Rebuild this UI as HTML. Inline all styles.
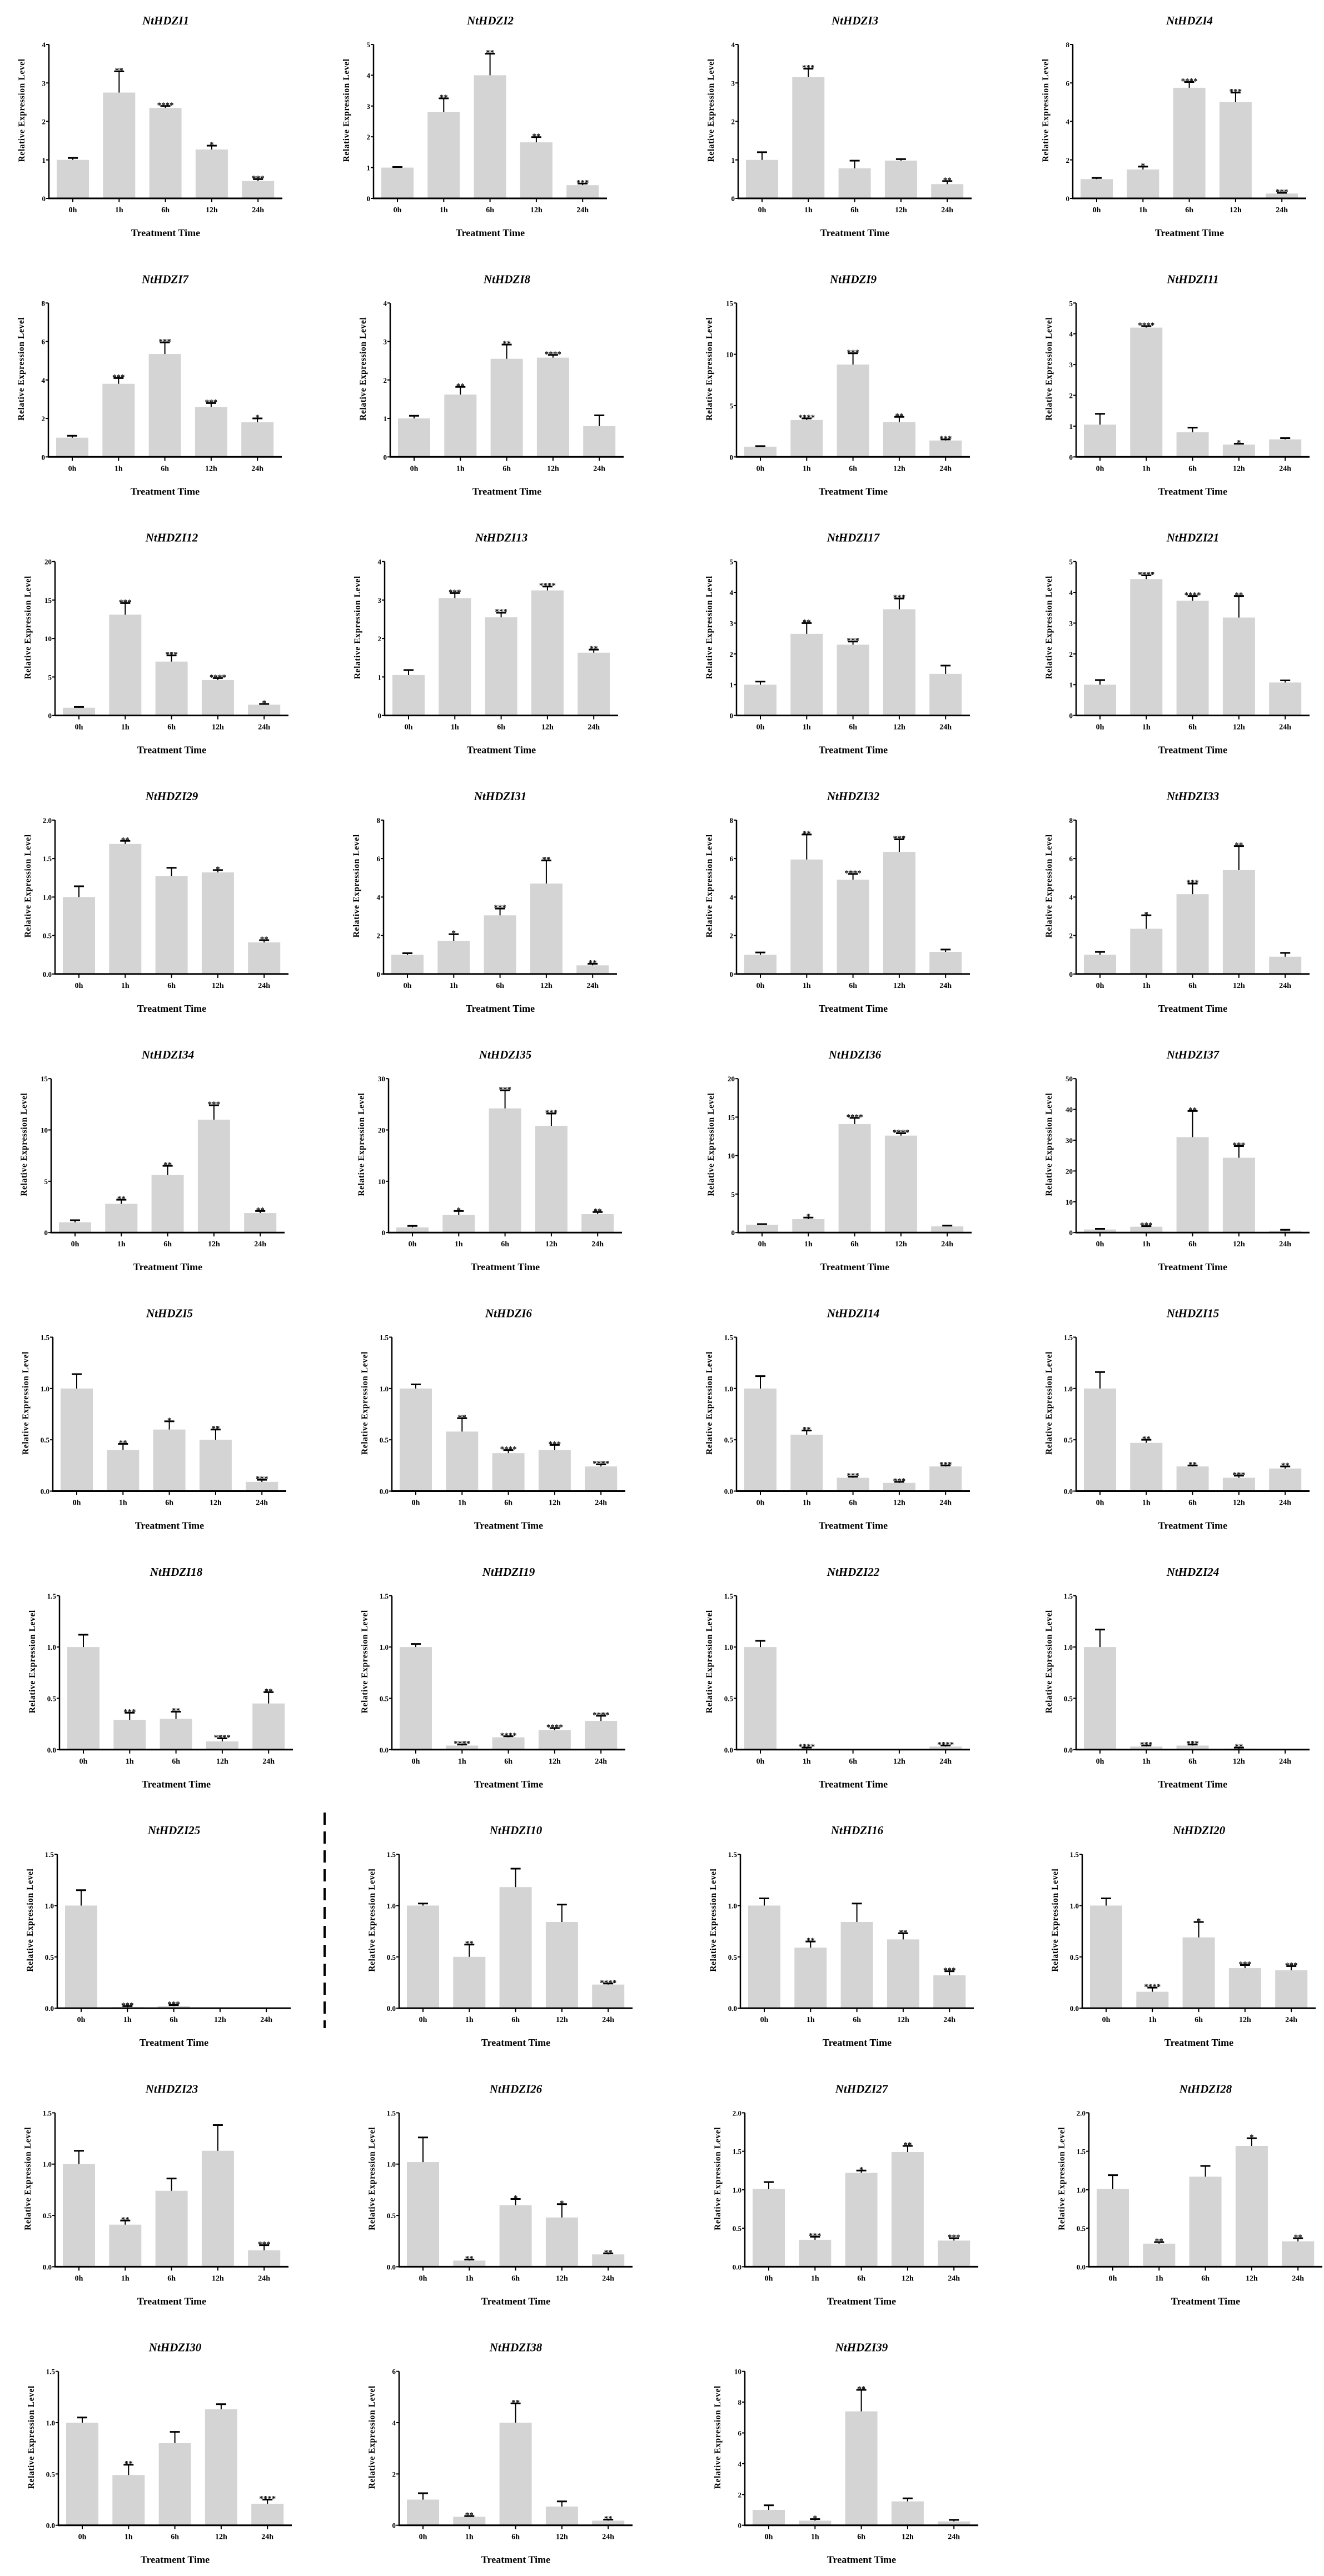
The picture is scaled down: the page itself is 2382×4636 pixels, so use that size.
<!DOCTYPE html>
<html><head><meta charset="utf-8"><style>
html,body{margin:0;padding:0;background:#fff;}
svg{display:block;}
text{font-family:"Liberation Serif",serif;font-weight:bold;fill:#000;}
</style></head><body>
<svg id="s" xmlns="http://www.w3.org/2000/svg" width="2382" height="4636" viewBox="0 0 2382 4636"></svg>
<script>
var P=[
[["NtHDZI1",4,1,[1,2.75,2.35,1.27,0.45],[.05,.55,.05,.1,.05],["","**","****","*","***"]],
 ["NtHDZI2",5,1,[1,2.8,4,1.82,.43],[.02,.45,.7,.17,.05],["","**","**","**","***"]],
 ["NtHDZI3",4,1,[1,3.15,.78,.98,.37],[.2,.22,.2,.04,.08],["","***","","","**"]],
 ["NtHDZI4",8,2,[1,1.5,5.75,5,.25],[.06,.15,.3,.5,.04],["","*","****","***","***"]]],
[["NtHDZI7",8,2,[1,3.8,5.35,2.6,1.8],[.1,.3,.6,.2,.2],["","***","***","***","*"]],
 ["NtHDZI8",4,1,[1,1.62,2.55,2.58,.8],[.07,.2,.37,.07,.28],["","**","**","****",""]],
 ["NtHDZI9",15,5,[1,3.6,9,3.4,1.6],[.05,.15,1.1,.5,.1],["","****","***","**","***"]],
 ["NtHDZI11",5,1,[1.05,4.2,.8,.4,.57],[.35,.05,.15,.03,.04],["","****","","*",""]]],
[["NtHDZI12",20,5,[1,13.1,7,4.6,1.4],[.1,1.5,.8,.25,.1],["","***","***","****","*"]],
 ["NtHDZI13",4,1,[1.05,3.05,2.55,3.25,1.63],[.13,.13,.12,.1,.08],["","***","***","****","**"]],
 ["NtHDZI17",5,1,[1,2.65,2.3,3.45,1.35],[.1,.35,.1,.35,.27],["","**","***","***",""]],
 ["NtHDZI21",5,1,[1,4.43,3.73,3.18,1.07],[.15,.12,.15,.7,.07],["","****","****","**",""]]],
[["NtHDZI29",2,.5,[1,1.69,1.27,1.32,.41],[.14,.04,.11,.03,.03],["","**","","*","**"]],
 ["NtHDZI31",8,2,[1,1.72,3.05,4.7,.45],[.08,.35,.35,1.2,.08],["","*","***","**","**"]],
 ["NtHDZI32",8,2,[1,5.95,4.9,6.35,1.15],[.12,1.3,.3,.65,.12],["","**","****","***",""]],
 ["NtHDZI33",8,2,[1,2.35,4.15,5.4,.9],[.15,.7,.55,1.25,.2],["","*","***","**",""]]],
[["NtHDZI34",15,5,[1,2.8,5.6,11,1.9],[.2,.4,.9,1.4,.2],["","**","**","***","**"]],
 ["NtHDZI35",30,10,[1,3.4,24.2,20.8,3.6],[.3,.8,3.5,2.4,.4],["","*","***","***","**"]],
 ["NtHDZI36",20,5,[1,1.75,14.1,12.6,.8],[.1,.2,.8,.3,.1],["","*","****","****",""]],
 ["NtHDZI37",50,10,[1,1.9,31,24.3,.6],[.2,.2,8.5,3.8,.3],["","***","**","***",""]]],
[["NtHDZI5",1.5,.5,[1,.4,.6,.5,.09],[.14,.06,.08,.1,.02],["","**","*","**","***"]],
 ["NtHDZI6",1.5,.5,[1,.58,.37,.4,.24],[.04,.13,.03,.05,.02],["","**","****","***","****"]],
 ["NtHDZI14",1.5,.5,[1,.55,.13,.08,.24],[.12,.04,.01,.01,.01],["","**","***","***","***"]],
 ["NtHDZI15",1.5,.5,[1,.47,.24,.13,.22],[.16,.03,.01,.02,.02],["","**","**","***","**"]]],
[["NtHDZI18",1.5,.5,[1,.29,.3,.08,.45],[.12,.07,.07,.03,.11],["","***","**","****","**"]],
 ["NtHDZI19",1.5,.5,[1,.04,.12,.19,.28],[.03,.01,.01,.02,.05],["","****","****","****","****"]],
 ["NtHDZI22",1.5,.5,[1,.01,0,0,.03],[.06,.01,0,0,.01],["","****","","","****"]],
 ["NtHDZI24",1.5,.5,[1,.03,.04,.01,0],[.17,.01,.01,.01,0],["","***","***","**",""]]],
[["NtHDZI25",1.5,.5,[1,.01,.02,0,0],[.15,.01,.01,0,0],["","***","***","",""]],
 ["NtHDZI10",1.5,.5,[1,.5,1.18,.84,.23],[.02,.12,.18,.17,.01],["","**","","","****"]],
 ["NtHDZI16",1.5,.5,[1,.59,.84,.67,.32],[.07,.06,.18,.06,.04],["","**","","**","***"]],
 ["NtHDZI20",1.5,.5,[1,.16,.69,.39,.37],[.07,.04,.15,.03,.04],["","****","*","***","***"]]],
[["NtHDZI23",1.5,.5,[1,.41,.74,1.13,.16],[.13,.04,.12,.25,.05],["","**","","","***"]],
 ["NtHDZI26",1.5,.5,[1.02,.06,.6,.48,.12],[.24,.01,.06,.13,.01],["","**","*","*","**"]],
 ["NtHDZI27",2,.5,[1.01,.35,1.22,1.49,.34],[.09,.04,.03,.08,.03],["","***","*","**","***"]],
 ["NtHDZI28",2,.5,[1.01,.3,1.17,1.57,.33],[.18,.02,.14,.1,.04],["","**","","*","**"]]],
[["NtHDZI30",1.5,.5,[1,.49,.8,1.13,.21],[.05,.1,.11,.05,.04],["","**","","","****"]],
 ["NtHDZI38",6,2,[1,.33,4,.73,.18],[.25,.03,.75,.2,.04],["","**","**","","**"]],
 ["NtHDZI39",10,2,[1,.3,7.4,1.55,.25],[.3,.1,1.4,.2,.1],["","*","**","",""]]]
];
var CX=[[88,672,1328,1930],[87,702,1325,1936],[99,692,1325,1936],[99,690,1325,1936],[92,699,1328,1936],
[95,705,1325,1936],[107,705,1325,1936],[103,718,1332,1947],[99,718,1340,1959],[105,718,1340]];
var L=["0h","1h","6h","12h","24h"];
var o=[];
function fmt(v,st){return st<1?v.toFixed(1):String(v);}
for(var r=0;r<P.length;r++){
  var B=357+465.3*r, T=B-277, H=277;
  for(var c=0;c<P[r].length;c++){
    var d=P[r][c], ax=CX[r][c], W=420, mx=d[1], st=d[2];
    var cxm=ax+W/2;
    o.push('<text x="'+cxm+'" y="'+(B-313)+'" font-size="21" font-style="italic" text-anchor="middle">'+d[0]+'</text>');
    var ly=(T+B)/2-20;
    o.push('<text transform="translate('+(ax-44)+','+ly+') rotate(-90)" font-size="15.5" text-anchor="middle" letter-spacing="0.6">Relative Expression Level</text>');
    o.push('<text x="'+cxm+'" y="'+(B+68)+'" font-size="18" text-anchor="middle">Treatment Time</text>');
    for(var k=0;k<5;k++){
      var bc=ax+43+83.3*k, v=d[3][k], e=d[4][k];
      var yt=B-v/mx*H, ye=B-(v+e)/mx*H;
      if(v>0) o.push('<rect x="'+(bc-29)+'" y="'+yt+'" width="58" height="'+(B-yt)+'" fill="#d4d4d4"/>');
      if(e>0){
        o.push('<line x1="'+bc+'" y1="'+yt+'" x2="'+bc+'" y2="'+ye+'" stroke="#000" stroke-width="2"/>');
        o.push('<line x1="'+(bc-9)+'" y1="'+ye+'" x2="'+(bc+9)+'" y2="'+ye+'" stroke="#000" stroke-width="3"/>');
      }
      if(d[5][k]) o.push('<text x="'+bc+'" y="'+(ye+3)+'" font-size="15" text-anchor="middle">'+d[5][k]+'</text>');
      o.push('<line x1="'+bc+'" y1="'+B+'" x2="'+bc+'" y2="'+(B+7)+'" stroke="#000" stroke-width="2"/>');
      o.push('<text x="'+bc+'" y="'+(B+25)+'" font-size="14" text-anchor="middle">'+L[k]+'</text>');
    }
    var n=Math.round(mx/st);
    for(var i=0;i<=n;i++){
      var y=B-i*st/mx*H;
      o.push('<line x1="'+(ax-5)+'" y1="'+y+'" x2="'+ax+'" y2="'+y+'" stroke="#000" stroke-width="2"/>');
      o.push('<text x="'+(ax-6)+'" y="'+(y+5)+'" font-size="13" text-anchor="end">'+fmt(i*st,st)+'</text>');
    }
    o.push('<line x1="'+ax+'" y1="'+T+'" x2="'+ax+'" y2="'+(B+1)+'" stroke="#000" stroke-width="2.5"/>');
    o.push('<line x1="'+(ax-1)+'" y1="'+B+'" x2="'+(ax+W)+'" y2="'+B+'" stroke="#000" stroke-width="3"/>');
  }
}
o.push('<line x1="584" y1="3262" x2="584" y2="3650" stroke="#000" stroke-width="4" stroke-dasharray="22,12"/>');
document.getElementById("s").innerHTML=o.join("");
</script>
</body></html>
